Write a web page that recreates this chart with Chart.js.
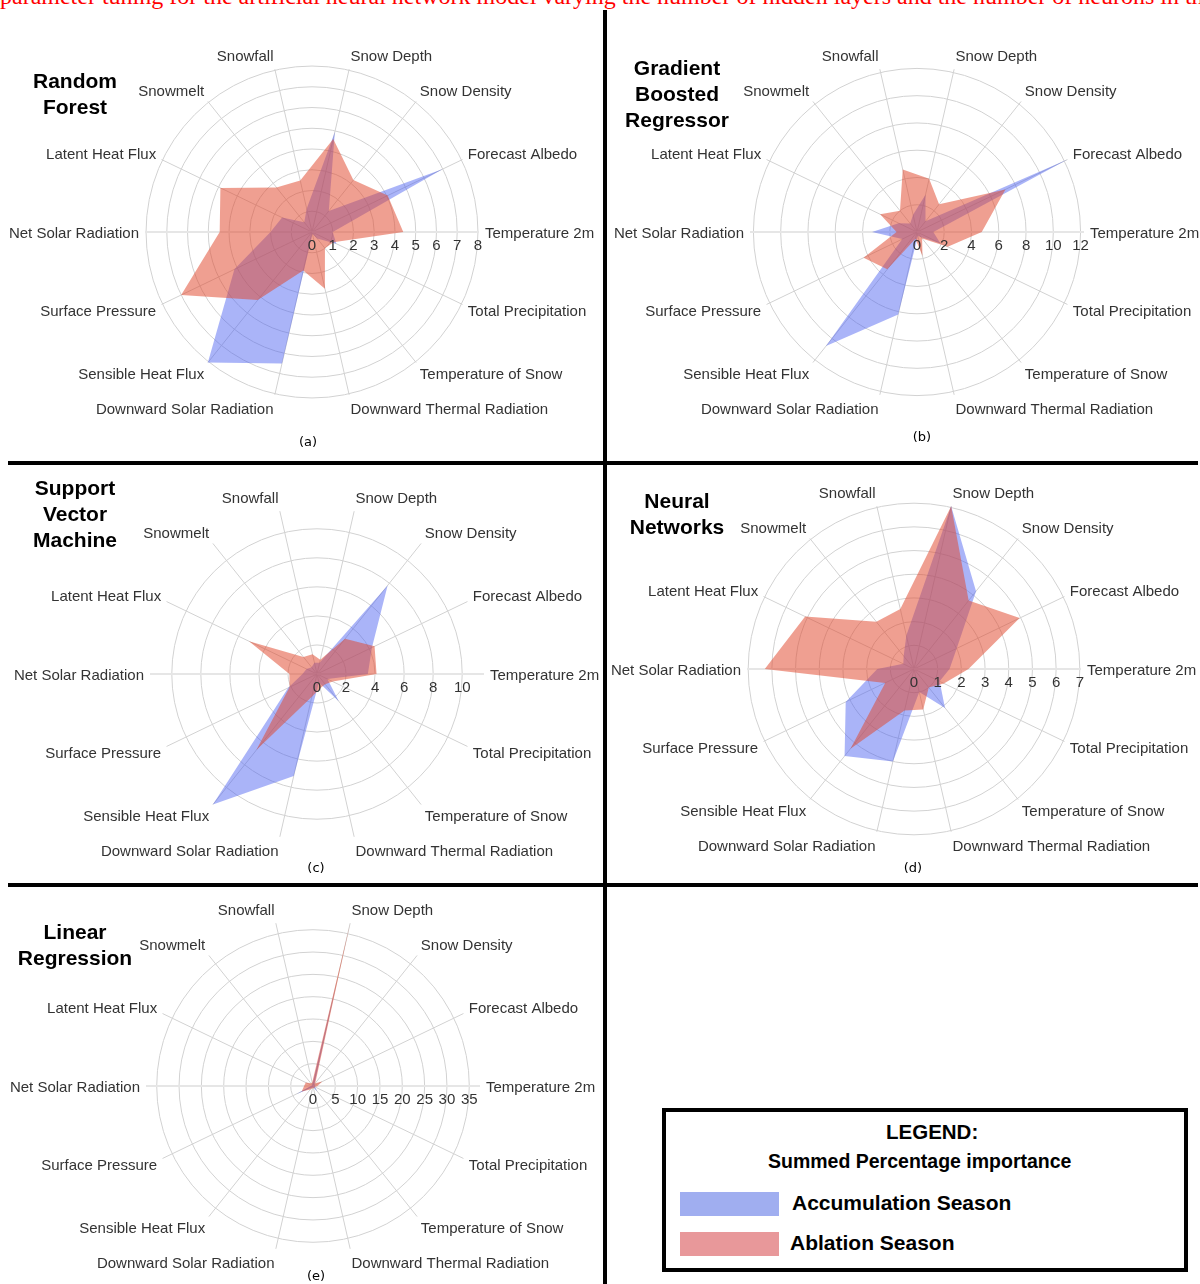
<!DOCTYPE html>
<html>
<head>
<meta charset="utf-8">
<script src="https://cdn.jsdelivr.net/npm/chart.js@4.4.1/dist/chart.umd.min.js"></script>
<style>
  html, body { margin: 0; padding: 0; background: #fff; }
  body { width: 1200px; height: 1284px; position: relative; overflow: hidden; font-family: "Liberation Sans", Arial, sans-serif; }
  canvas { position: absolute; }
  .rule { position: absolute; background: #000; }
  .title { position: absolute; width: 150px; font-weight: bold; font-size: 21px; line-height: 26px; text-align: center; color: #000; }
  .sub { position: absolute; width: 40px; margin-left: -20px; text-align: center; font-family: "DejaVu Sans", sans-serif; font-size: 13px; line-height: 16px; color: #000; }
  .cut { position: absolute; left: 0; top: -16px; font-family: "Liberation Serif", "Times New Roman", serif; font-size: 24px; line-height: 24px; color: #f00; white-space: nowrap; }
  .legbox { position: absolute; left: 662px; top: 1108px; width: 526px; height: 164px; box-sizing: border-box; border: 4px solid #000; }
  .lt { position: absolute; font-weight: bold; color: #000; white-space: nowrap; }
  .sw { position: absolute; width: 99px; height: 24px; }
</style>
</head>
<body>
<div class="cut">parameter tuning for the artificial neural network model varying the number of hidden layers and the number of neurons in th</div>

<div class="rule" style="left:603px; top:10px; width:4px; height:1274px;"></div>
<div class="rule" style="left:8px; top:461px; width:1190px; height:4px;"></div>
<div class="rule" style="left:8px; top:883px; width:1190px; height:4px;"></div>

<canvas id="rf" width="604" height="460" style="left:0; top:0;"></canvas>
<canvas id="gbr" width="596" height="460" style="left:604px; top:0;"></canvas>
<canvas id="svm" width="604" height="414" style="left:0; top:466px;"></canvas>
<canvas id="nn" width="596" height="414" style="left:604px; top:466px;"></canvas>
<canvas id="lr" width="604" height="396" style="left:0; top:888px;"></canvas>

<div class="title" style="left:0; top:68px;">Random<br>Forest</div>
<div class="title" style="left:602px; top:55px;">Gradient<br>Boosted<br>Regressor</div>
<div class="title" style="left:0; top:475px;">Support<br>Vector<br>Machine</div>
<div class="title" style="left:602px; top:488px;">Neural<br>Networks</div>
<div class="title" style="left:0; top:919px;">Linear<br>Regression</div>

<div class="sub" style="left:308px; top:434px;">(a)</div>
<div class="sub" style="left:922px; top:429px;">(b)</div>
<div class="sub" style="left:316px; top:860px;">(c)</div>
<div class="sub" style="left:913px; top:860px;">(d)</div>
<div class="sub" style="left:316px; top:1268px;">(e)</div>

<div class="legbox"></div>
<div class="lt" style="left:886px; top:1120px; font-size:20.5px; line-height:24px;">LEGEND:</div>
<div class="lt" style="left:768px; top:1149px; font-size:19.5px; line-height:24px;">Summed Percentage importance</div>
<div class="sw" style="left:680px; top:1192px; background:#a0aef0;"></div>
<div class="lt" style="left:792px; top:1190px; font-size:21px; line-height:26px;">Accumulation Season</div>
<div class="sw" style="left:680px; top:1232px; background:#e8989a;"></div>
<div class="lt" style="left:790px; top:1230px; font-size:21px; line-height:26px;">Ablation Season</div>

<script>
// features, clockwise starting from the right-hand axis
const features = ['Temperature 2m', 'Total Precipitation', 'Temperature of Snow',
  'Downward Thermal Radiation', 'Downward Solar Radiation', 'Sensible Heat Flux',
  'Surface Pressure', 'Net Solar Radiation', 'Latent Heat Flux', 'Snowmelt',
  'Snowfall', 'Snow Depth', 'Snow Density', 'Forecast Albedo'];

// summed percentage importance, accumulation vs ablation season
const rfAccum    = [1.0, 1.3, 0.4, 0.1, 6.5, 8.05, 4.15, 2.0, 1.6, 0.6, 1.15, 4.95, 1.3, 7.0];
const rfAblation = [4.4, 1.15, 1.0, 2.8, 1.9, 4.2, 7.0, 4.45, 4.9, 2.75, 2.55, 4.6, 3.2, 4.05];

const gbrAccum    = [1.2, 1.9, 0.5, 0.3, 6.2, 10.7, 1.2, 3.3, 1.5, 0.8, 1.3, 2.8, 1.0, 12.25];
const gbrAblation = [4.75, 2.5, 0.6, 1.8, 0.5, 3.5, 4.35, 1.5, 3.0, 2.0, 4.7, 4.0, 2.6, 7.2];

const svmAccum    = [3.5, 0.8, 2.4, 0.6, 7.2, 11.5, 2.2, 1.0, 0.8, 0.6, 0.8, 0.8, 7.8, 4.2];
const svmAblation = [4.1, 1.2, 0.9, 1.0, 1.6, 6.7, 2.1, 1.9, 5.2, 1.5, 1.4, 1.0, 3.1, 4.4];

const nnAccum    = [1.5, 1.2, 2.1, 1.0, 4.0, 4.7, 3.2, 1.55, 0.5, 0.7, 1.45, 7.05, 4.2, 2.0];
const nnAblation = [2.3, 1.4, 1.0, 1.75, 1.8, 4.3, 1.35, 6.3, 5.1, 2.55, 2.6, 7.05, 3.7, 4.95];

const lrAccum    = [0.5, 0.5, 1.5, 0.3, 0.3, 0.5, 4.2, 0.5, 0.3, 0.3, 0.5, 24, 0.5, 0.5];
const lrAblation = [1.0, 0.5, 0.5, 0.5, 0.5, 1.0, 2.8, 2.0, 1.8, 0.8, 0.8, 37.4, 0.8, 2.3];

// radial tick spacing per panel
const rfStep = 1, gbrStep = 2, svmStep = 2, nnStep = 1, lrStep = 5;

const blueFill = 'rgba(75, 95, 240, 0.47)';
const redFill = 'rgba(225, 70, 45, 0.52)';
const R = 167;

// axis labels and radial tick labels, placed from the scale
const radarText = {
  id: 'radarText',
  afterDraw(chart) {
    const r = chart.scales.r;
    const ctx = chart.ctx;
    ctx.save();
    ctx.fillStyle = '#333';
    ctx.font = '15px "Liberation Sans", Arial, sans-serif';
    ctx.textBaseline = 'middle';
    chart.data.labels.forEach((lab, i) => {
      const a = r.getIndexAngle(i) - Math.PI / 2;
      const c = Math.cos(a), s = Math.sin(a);
      const p = r.getPointPosition(i, r.drawingArea);
      ctx.textAlign = c > 0.01 ? 'left' : (c < -0.01 ? 'right' : 'center');
      ctx.fillText(lab, p.x + c * 6, p.y + s * 14 + 1.5);
    });
    ctx.textAlign = 'center';
    r.ticks.forEach(t => {
      ctx.fillText(String(t.value), r.xCenter + r.getDistanceFromCenterForValue(t.value), r.yCenter + 14);
    });
    ctx.restore();
  }
};

function radar(id, cx, cy, accum, ablation, step) {
  const el = document.getElementById(id);
  const left = cx - R - el.offsetLeft;
  const top = cy - R - el.offsetTop;
  const padding = { left: left, top: top, right: el.width - left - 2 * R, bottom: el.height - top - 2 * R };
  return new Chart(el, {
    type: 'radar',
    data: {
      labels: features,
      datasets: [
        { label: 'Accumulation Season', data: accum, backgroundColor: blueFill, borderColor: 'transparent',
          borderWidth: 0, pointRadius: 0, fill: true, order: 1 },
        { label: 'Ablation Season', data: ablation, backgroundColor: redFill, borderColor: 'transparent',
          borderWidth: 0, pointRadius: 0, fill: true, order: 0 }
      ]
    },
    options: {
      responsive: false,
      animation: false,
      layout: { padding: padding },
      plugins: { legend: { display: false }, tooltip: { enabled: false } },
      scales: {
        r: {
          min: 0,
          max: Math.max(...accum, ...ablation),
          startAngle: 90,
          ticks: { display: false, stepSize: step, includeBounds: false },
          grid: { circular: true, color: '#d2d2d2', lineWidth: 1 },
          angleLines: {
            color: c => (c.index === 0 || c.index === 7) ? '#e6e6e6' : '#d2d2d2',
            lineWidth: c => (c.index === 0 || c.index === 7) ? 2 : 1
          },
          pointLabels: { display: false }
        }
      }
    },
    plugins: [radarText]
  });
}

radar('rf', 312, 232, rfAccum, rfAblation, rfStep);
radar('gbr', 917, 232, gbrAccum, gbrAblation, gbrStep);
radar('svm', 317, 674, svmAccum, svmAblation, svmStep);
radar('nn', 914, 669, nnAccum, nnAblation, nnStep);
radar('lr', 313, 1086, lrAccum, lrAblation, lrStep);
</script>
</body>
</html>
